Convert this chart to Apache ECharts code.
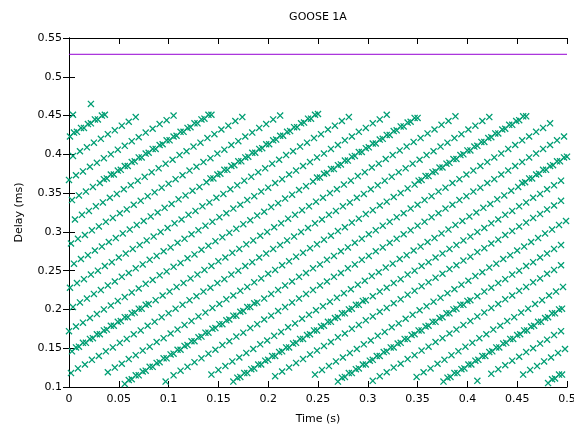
<!DOCTYPE html>
<html>
<head>
<meta charset="utf-8">
<title>GOOSE 1A</title>
<script src="https://cdn.jsdelivr.net/npm/echarts/dist/echarts.min.js"></script>
<style>
  html, body { margin: 0; padding: 0; background: #fff; }
  #chart { width: 574px; height: 427px; }
</style>
</head>
<body>
<div id="chart"></div>
<script>
// delay points, one array per diagonal stripe (time s, delay ms)
const st0 = [[0.001,0.423],[0.008,0.429],[0.015,0.434],[0.022,0.440],[0.029,0.445],[0.036,0.451]]
const st1 = [[0.004,0.398],[0.011,0.404],[0.018,0.409],[0.025,0.415],[0.032,0.420],[0.039,0.426],[0.046,0.431],[0.053,0.437],[0.060,0.442],[0.067,0.448]]
const st2 = [[0.000,0.367],[0.007,0.373],[0.014,0.378],[0.021,0.384],[0.028,0.389],[0.035,0.395],[0.042,0.400],[0.049,0.406],[0.056,0.411],[0.063,0.417],[0.070,0.422],[0.077,0.428],[0.084,0.433],[0.091,0.439],[0.098,0.444],[0.105,0.450]]
const st3 = [[0.003,0.341],[0.010,0.347],[0.017,0.352],[0.024,0.358],[0.031,0.363],[0.038,0.369],[0.045,0.374],[0.052,0.380],[0.059,0.385],[0.066,0.391],[0.073,0.396],[0.080,0.402],[0.087,0.407],[0.094,0.413],[0.101,0.418],[0.108,0.424],[0.115,0.429],[0.122,0.435],[0.129,0.440],[0.136,0.446],[0.143,0.451]]
const st4 = [[0.006,0.316],[0.013,0.322],[0.020,0.327],[0.027,0.333],[0.034,0.338],[0.041,0.344],[0.048,0.349],[0.055,0.355],[0.062,0.360],[0.069,0.366],[0.076,0.371],[0.083,0.377],[0.090,0.382],[0.097,0.388],[0.104,0.393],[0.111,0.399],[0.118,0.404],[0.125,0.410],[0.132,0.415],[0.139,0.421],[0.146,0.426],[0.153,0.432],[0.160,0.437],[0.167,0.443],[0.174,0.448]]
const st5 = [[0.002,0.285],[0.009,0.291],[0.016,0.296],[0.023,0.302],[0.030,0.307],[0.037,0.313],[0.044,0.318],[0.051,0.324],[0.058,0.329],[0.065,0.335],[0.072,0.340],[0.079,0.346],[0.086,0.351],[0.093,0.357],[0.100,0.362],[0.107,0.368],[0.114,0.373],[0.121,0.379],[0.128,0.384],[0.135,0.390],[0.142,0.395],[0.149,0.401],[0.156,0.406],[0.163,0.412],[0.170,0.417],[0.177,0.423],[0.184,0.428],[0.191,0.434],[0.198,0.439],[0.205,0.445],[0.212,0.450]]
const st6 = [[0.005,0.259],[0.012,0.265],[0.019,0.270],[0.026,0.276],[0.033,0.281],[0.040,0.287],[0.047,0.292],[0.054,0.298],[0.061,0.303],[0.068,0.309],[0.075,0.314],[0.082,0.320],[0.089,0.325],[0.096,0.331],[0.103,0.336],[0.110,0.342],[0.117,0.347],[0.124,0.353],[0.131,0.358],[0.138,0.364],[0.145,0.369],[0.152,0.375],[0.159,0.380],[0.166,0.386],[0.173,0.391],[0.180,0.397],[0.187,0.402],[0.194,0.408],[0.201,0.413],[0.208,0.419],[0.215,0.424],[0.222,0.430],[0.229,0.435],[0.236,0.441],[0.243,0.446],[0.250,0.452]]
const st7 = [[0.001,0.228],[0.008,0.234],[0.015,0.239],[0.022,0.245],[0.029,0.250],[0.036,0.256],[0.043,0.261],[0.050,0.267],[0.057,0.272],[0.064,0.278],[0.071,0.283],[0.078,0.289],[0.085,0.294],[0.092,0.300],[0.099,0.305],[0.106,0.311],[0.113,0.316],[0.120,0.322],[0.127,0.327],[0.134,0.333],[0.141,0.338],[0.148,0.344],[0.155,0.349],[0.162,0.355],[0.169,0.360],[0.176,0.366],[0.183,0.371],[0.190,0.377],[0.197,0.382],[0.204,0.388],[0.211,0.393],[0.218,0.399],[0.225,0.404],[0.232,0.410],[0.239,0.415],[0.246,0.421],[0.253,0.426],[0.260,0.432],[0.267,0.437],[0.274,0.443],[0.281,0.448]]
const st8 = [[0.004,0.203],[0.011,0.209],[0.018,0.214],[0.025,0.220],[0.032,0.225],[0.039,0.231],[0.046,0.236],[0.053,0.242],[0.060,0.247],[0.067,0.253],[0.074,0.258],[0.081,0.264],[0.088,0.269],[0.095,0.275],[0.102,0.280],[0.109,0.286],[0.116,0.291],[0.123,0.297],[0.130,0.302],[0.137,0.308],[0.144,0.313],[0.151,0.319],[0.158,0.324],[0.165,0.330],[0.172,0.335],[0.179,0.341],[0.186,0.346],[0.193,0.352],[0.200,0.357],[0.207,0.363],[0.214,0.368],[0.221,0.374],[0.228,0.379],[0.235,0.385],[0.242,0.390],[0.249,0.396],[0.256,0.401],[0.263,0.407],[0.270,0.412],[0.277,0.418],[0.284,0.423],[0.291,0.429],[0.298,0.434],[0.305,0.440],[0.312,0.445],[0.319,0.451]]
const st9 = [[0.000,0.172],[0.007,0.178],[0.014,0.183],[0.021,0.189],[0.028,0.194],[0.035,0.200],[0.042,0.205],[0.049,0.211],[0.056,0.216],[0.063,0.222],[0.070,0.227],[0.077,0.233],[0.084,0.238],[0.091,0.244],[0.098,0.249],[0.105,0.255],[0.112,0.260],[0.119,0.266],[0.126,0.271],[0.133,0.277],[0.140,0.282],[0.147,0.288],[0.154,0.293],[0.161,0.299],[0.168,0.304],[0.175,0.310],[0.182,0.315],[0.189,0.321],[0.196,0.326],[0.203,0.332],[0.210,0.337],[0.217,0.343],[0.224,0.348],[0.231,0.354],[0.238,0.359],[0.245,0.365],[0.252,0.370],[0.259,0.376],[0.266,0.381],[0.273,0.387],[0.280,0.392],[0.287,0.398],[0.294,0.403],[0.301,0.409],[0.308,0.414],[0.315,0.420],[0.322,0.425],[0.329,0.431],[0.336,0.436],[0.343,0.442],[0.350,0.447]]
const st10 = [[0.003,0.146],[0.010,0.152],[0.017,0.157],[0.024,0.163],[0.031,0.168],[0.038,0.174],[0.045,0.179],[0.052,0.185],[0.059,0.190],[0.066,0.196],[0.073,0.201],[0.080,0.207],[0.087,0.212],[0.094,0.218],[0.101,0.223],[0.108,0.229],[0.115,0.234],[0.122,0.240],[0.129,0.245],[0.136,0.251],[0.143,0.256],[0.150,0.262],[0.157,0.267],[0.164,0.273],[0.171,0.278],[0.178,0.284],[0.185,0.289],[0.192,0.295],[0.199,0.300],[0.206,0.306],[0.213,0.311],[0.220,0.317],[0.227,0.322],[0.234,0.328],[0.241,0.333],[0.248,0.339],[0.255,0.344],[0.262,0.350],[0.269,0.355],[0.276,0.361],[0.283,0.366],[0.290,0.372],[0.297,0.377],[0.304,0.383],[0.311,0.388],[0.318,0.394],[0.325,0.399],[0.332,0.405],[0.339,0.410],[0.346,0.416],[0.353,0.421],[0.360,0.427],[0.367,0.432],[0.374,0.438],[0.381,0.443],[0.388,0.449]]
const st11 = [[0.002,0.118],[0.009,0.124],[0.016,0.129],[0.023,0.135],[0.030,0.140],[0.037,0.146],[0.044,0.151],[0.051,0.157],[0.058,0.162],[0.065,0.168],[0.072,0.173],[0.079,0.179],[0.086,0.184],[0.093,0.190],[0.100,0.195],[0.107,0.201],[0.114,0.206],[0.121,0.212],[0.128,0.217],[0.135,0.223],[0.142,0.228],[0.149,0.234],[0.156,0.239],[0.163,0.245],[0.170,0.250],[0.177,0.256],[0.184,0.261],[0.191,0.267],[0.198,0.272],[0.205,0.278],[0.212,0.283],[0.219,0.289],[0.226,0.294],[0.233,0.300],[0.240,0.305],[0.247,0.311],[0.254,0.316],[0.261,0.322],[0.268,0.327],[0.275,0.333],[0.282,0.338],[0.289,0.344],[0.296,0.349],[0.303,0.355],[0.310,0.360],[0.317,0.366],[0.324,0.371],[0.331,0.377],[0.338,0.382],[0.345,0.388],[0.352,0.393],[0.359,0.399],[0.366,0.404],[0.373,0.410],[0.380,0.415],[0.387,0.421],[0.394,0.426],[0.401,0.432],[0.408,0.437],[0.415,0.443],[0.422,0.448]]
const st12 = [[0.039,0.119],[0.046,0.125],[0.053,0.130],[0.060,0.136],[0.067,0.141],[0.074,0.147],[0.081,0.152],[0.088,0.158],[0.095,0.163],[0.102,0.169],[0.109,0.174],[0.116,0.180],[0.123,0.185],[0.130,0.191],[0.137,0.196],[0.144,0.202],[0.151,0.207],[0.158,0.213],[0.165,0.218],[0.172,0.224],[0.179,0.229],[0.186,0.235],[0.193,0.240],[0.200,0.246],[0.207,0.251],[0.214,0.257],[0.221,0.262],[0.228,0.268],[0.235,0.273],[0.242,0.279],[0.249,0.284],[0.256,0.290],[0.263,0.295],[0.270,0.301],[0.277,0.306],[0.284,0.312],[0.291,0.317],[0.298,0.323],[0.305,0.328],[0.312,0.334],[0.319,0.339],[0.326,0.345],[0.333,0.350],[0.340,0.356],[0.347,0.361],[0.354,0.367],[0.361,0.372],[0.368,0.378],[0.375,0.383],[0.382,0.389],[0.389,0.394],[0.396,0.400],[0.403,0.405],[0.410,0.411],[0.417,0.416],[0.424,0.422],[0.431,0.427],[0.438,0.433],[0.445,0.438],[0.452,0.444],[0.459,0.449]]
const st13 = [[0.056,0.104],[0.063,0.110],[0.070,0.115],[0.077,0.121],[0.084,0.126],[0.091,0.132],[0.098,0.137],[0.105,0.143],[0.112,0.148],[0.119,0.154],[0.126,0.159],[0.133,0.165],[0.140,0.170],[0.147,0.176],[0.154,0.181],[0.161,0.187],[0.168,0.192],[0.175,0.198],[0.182,0.203],[0.189,0.209],[0.196,0.214],[0.203,0.220],[0.210,0.225],[0.217,0.231],[0.224,0.236],[0.231,0.242],[0.238,0.247],[0.245,0.253],[0.252,0.258],[0.259,0.264],[0.266,0.269],[0.273,0.275],[0.280,0.280],[0.287,0.286],[0.294,0.291],[0.301,0.297],[0.308,0.302],[0.315,0.308],[0.322,0.313],[0.329,0.319],[0.336,0.324],[0.343,0.330],[0.350,0.335],[0.357,0.341],[0.364,0.346],[0.371,0.352],[0.378,0.357],[0.385,0.363],[0.392,0.368],[0.399,0.374],[0.406,0.379],[0.413,0.385],[0.420,0.390],[0.427,0.396],[0.434,0.401],[0.441,0.407],[0.448,0.412],[0.455,0.418],[0.462,0.423],[0.469,0.429],[0.476,0.434],[0.483,0.440]]
const st14 = [[0.105,0.115],[0.112,0.121],[0.119,0.126],[0.126,0.132],[0.133,0.137],[0.140,0.143],[0.147,0.148],[0.154,0.154],[0.161,0.159],[0.168,0.165],[0.175,0.170],[0.182,0.176],[0.189,0.181],[0.196,0.187],[0.203,0.192],[0.210,0.198],[0.217,0.203],[0.224,0.209],[0.231,0.214],[0.238,0.220],[0.245,0.225],[0.252,0.231],[0.259,0.236],[0.266,0.242],[0.273,0.247],[0.280,0.253],[0.287,0.258],[0.294,0.264],[0.301,0.269],[0.308,0.275],[0.315,0.280],[0.322,0.286],[0.329,0.291],[0.336,0.297],[0.343,0.302],[0.350,0.308],[0.357,0.313],[0.364,0.319],[0.371,0.324],[0.378,0.330],[0.385,0.335],[0.392,0.341],[0.399,0.346],[0.406,0.352],[0.413,0.357],[0.420,0.363],[0.427,0.368],[0.434,0.374],[0.441,0.379],[0.448,0.385],[0.455,0.390],[0.462,0.396],[0.469,0.401],[0.476,0.407],[0.483,0.412],[0.490,0.418],[0.497,0.423]]
const st15 = [[0.143,0.116],[0.150,0.122],[0.157,0.127],[0.164,0.133],[0.171,0.138],[0.178,0.144],[0.185,0.149],[0.192,0.155],[0.199,0.160],[0.206,0.166],[0.213,0.171],[0.220,0.177],[0.227,0.182],[0.234,0.188],[0.241,0.193],[0.248,0.199],[0.255,0.204],[0.262,0.210],[0.269,0.215],[0.276,0.221],[0.283,0.226],[0.290,0.232],[0.297,0.237],[0.304,0.243],[0.311,0.248],[0.318,0.254],[0.325,0.259],[0.332,0.265],[0.339,0.270],[0.346,0.276],[0.353,0.281],[0.360,0.287],[0.367,0.292],[0.374,0.298],[0.381,0.303],[0.388,0.309],[0.395,0.314],[0.402,0.320],[0.409,0.325],[0.416,0.331],[0.423,0.336],[0.430,0.342],[0.437,0.347],[0.444,0.353],[0.451,0.358],[0.458,0.364],[0.465,0.369],[0.472,0.375],[0.479,0.380],[0.486,0.386],[0.493,0.391],[0.500,0.397]]
const st16 = [[0.165,0.107],[0.172,0.113],[0.179,0.118],[0.186,0.124],[0.193,0.129],[0.200,0.135],[0.207,0.140],[0.214,0.146],[0.221,0.151],[0.228,0.157],[0.235,0.162],[0.242,0.168],[0.249,0.173],[0.256,0.179],[0.263,0.184],[0.270,0.190],[0.277,0.195],[0.284,0.201],[0.291,0.206],[0.298,0.212],[0.305,0.217],[0.312,0.223],[0.319,0.228],[0.326,0.234],[0.333,0.239],[0.340,0.245],[0.347,0.250],[0.354,0.256],[0.361,0.261],[0.368,0.267],[0.375,0.272],[0.382,0.278],[0.389,0.283],[0.396,0.289],[0.403,0.294],[0.410,0.300],[0.417,0.305],[0.424,0.311],[0.431,0.316],[0.438,0.322],[0.445,0.327],[0.452,0.333],[0.459,0.338],[0.466,0.344],[0.473,0.349],[0.480,0.355],[0.487,0.360],[0.494,0.366]]
const st17 = [[0.207,0.114],[0.214,0.120],[0.221,0.125],[0.228,0.131],[0.235,0.136],[0.242,0.142],[0.249,0.147],[0.256,0.153],[0.263,0.158],[0.270,0.164],[0.277,0.169],[0.284,0.175],[0.291,0.180],[0.298,0.186],[0.305,0.191],[0.312,0.197],[0.319,0.202],[0.326,0.208],[0.333,0.213],[0.340,0.219],[0.347,0.224],[0.354,0.230],[0.361,0.235],[0.368,0.241],[0.375,0.246],[0.382,0.252],[0.389,0.257],[0.396,0.263],[0.403,0.268],[0.410,0.274],[0.417,0.279],[0.424,0.285],[0.431,0.290],[0.438,0.296],[0.445,0.301],[0.452,0.307],[0.459,0.312],[0.466,0.318],[0.473,0.323],[0.480,0.329],[0.487,0.334],[0.494,0.340]]
const st18 = [[0.247,0.116],[0.254,0.122],[0.261,0.127],[0.268,0.133],[0.275,0.138],[0.282,0.144],[0.289,0.149],[0.296,0.155],[0.303,0.160],[0.310,0.166],[0.317,0.171],[0.324,0.177],[0.331,0.182],[0.338,0.188],[0.345,0.193],[0.352,0.199],[0.359,0.204],[0.366,0.210],[0.373,0.215],[0.380,0.221],[0.387,0.226],[0.394,0.232],[0.401,0.237],[0.408,0.243],[0.415,0.248],[0.422,0.254],[0.429,0.259],[0.436,0.265],[0.443,0.270],[0.450,0.276],[0.457,0.281],[0.464,0.287],[0.471,0.292],[0.478,0.298],[0.485,0.303],[0.492,0.309],[0.499,0.314]]
const st19 = [[0.270,0.107],[0.277,0.113],[0.284,0.118],[0.291,0.124],[0.298,0.129],[0.305,0.135],[0.312,0.140],[0.319,0.146],[0.326,0.151],[0.333,0.157],[0.340,0.162],[0.347,0.168],[0.354,0.173],[0.361,0.179],[0.368,0.184],[0.375,0.190],[0.382,0.195],[0.389,0.201],[0.396,0.206],[0.403,0.212],[0.410,0.217],[0.417,0.223],[0.424,0.228],[0.431,0.234],[0.438,0.239],[0.445,0.245],[0.452,0.250],[0.459,0.256],[0.466,0.261],[0.473,0.267],[0.480,0.272],[0.487,0.278],[0.494,0.283]]
const st20 = [[0.305,0.108],[0.312,0.114],[0.319,0.119],[0.326,0.125],[0.333,0.130],[0.340,0.136],[0.347,0.141],[0.354,0.147],[0.361,0.152],[0.368,0.158],[0.375,0.163],[0.382,0.169],[0.389,0.174],[0.396,0.180],[0.403,0.185],[0.410,0.191],[0.417,0.196],[0.424,0.202],[0.431,0.207],[0.438,0.213],[0.445,0.218],[0.452,0.224],[0.459,0.229],[0.466,0.235],[0.473,0.240],[0.480,0.246],[0.487,0.251],[0.494,0.257]]
const st21 = [[0.349,0.113],[0.356,0.119],[0.363,0.124],[0.370,0.130],[0.377,0.135],[0.384,0.141],[0.391,0.146],[0.398,0.152],[0.405,0.157],[0.412,0.163],[0.419,0.168],[0.426,0.174],[0.433,0.179],[0.440,0.185],[0.447,0.190],[0.454,0.196],[0.461,0.201],[0.468,0.207],[0.475,0.212],[0.482,0.218],[0.489,0.223],[0.496,0.229]]
const st22 = [[0.376,0.107],[0.383,0.113],[0.390,0.118],[0.397,0.124],[0.404,0.129],[0.411,0.135],[0.418,0.140],[0.425,0.146],[0.432,0.151],[0.439,0.157],[0.446,0.162],[0.453,0.168],[0.460,0.173],[0.467,0.179],[0.474,0.184],[0.481,0.190],[0.488,0.195],[0.495,0.201]]
const st23 = [[0.424,0.117],[0.431,0.123],[0.438,0.128],[0.445,0.134],[0.452,0.139],[0.459,0.145],[0.466,0.150],[0.473,0.156],[0.480,0.161],[0.487,0.167],[0.494,0.172]]
const st24 = [[0.456,0.116],[0.463,0.122],[0.470,0.127],[0.477,0.133],[0.484,0.138],[0.491,0.144],[0.498,0.149]]
const st25 = [[0.481,0.105],[0.488,0.111],[0.495,0.116]]

// the extra in-between samples where a stripe looks doubled (thick)
const dn0 = [[0.005,0.428],[0.012,0.434],[0.019,0.439],[0.026,0.445],[0.033,0.450]]
const dn3 = [[0.035,0.368],[0.042,0.374],[0.049,0.379],[0.056,0.385],[0.063,0.390],[0.070,0.396],[0.077,0.401],[0.084,0.407],[0.091,0.412],[0.098,0.418],[0.105,0.423],[0.112,0.429],[0.119,0.434],[0.126,0.440],[0.133,0.445],[0.140,0.451]]
const dn6 = [[0.142,0.369],[0.149,0.374],[0.156,0.380],[0.163,0.385],[0.170,0.391],[0.177,0.396],[0.184,0.402],[0.191,0.407],[0.198,0.413],[0.205,0.418],[0.212,0.424],[0.219,0.429],[0.226,0.435],[0.233,0.440],[0.240,0.446],[0.247,0.451]]
const dn9 = [[0.249,0.370],[0.256,0.375],[0.263,0.381],[0.270,0.386],[0.277,0.392],[0.284,0.397],[0.291,0.403],[0.298,0.408],[0.305,0.414],[0.312,0.419],[0.319,0.425],[0.326,0.430],[0.333,0.436],[0.340,0.441],[0.347,0.447]]
const dn10 = [[0.007,0.151],[0.014,0.157],[0.021,0.162],[0.028,0.168],[0.035,0.173],[0.042,0.179],[0.049,0.184],[0.056,0.190],[0.063,0.195],[0.070,0.201],[0.077,0.206]]
const dn12 = [[0.351,0.366],[0.358,0.372],[0.365,0.377],[0.372,0.383],[0.379,0.388],[0.386,0.394],[0.393,0.399],[0.400,0.405],[0.407,0.410],[0.414,0.416],[0.421,0.421],[0.428,0.427],[0.435,0.432],[0.442,0.438],[0.449,0.443],[0.456,0.449]]
const dn13 = [[0.060,0.109],[0.067,0.115],[0.074,0.120],[0.081,0.126],[0.088,0.131],[0.095,0.137],[0.102,0.142],[0.109,0.148],[0.116,0.153],[0.123,0.159],[0.130,0.164],[0.137,0.170],[0.144,0.175],[0.151,0.181],[0.158,0.186],[0.165,0.192],[0.172,0.197],[0.179,0.203],[0.186,0.208]]
const dn15 = [[0.455,0.363],[0.462,0.369],[0.469,0.374],[0.476,0.380],[0.483,0.385],[0.490,0.391],[0.497,0.396]]
const dn16 = [[0.169,0.112],[0.176,0.118],[0.183,0.123],[0.190,0.129],[0.197,0.134],[0.204,0.140],[0.211,0.145],[0.218,0.151],[0.225,0.156],[0.232,0.162],[0.239,0.167],[0.246,0.173],[0.253,0.178],[0.260,0.184],[0.267,0.189],[0.274,0.195],[0.281,0.200],[0.288,0.206],[0.295,0.211]]
const dn19 = [[0.274,0.112],[0.281,0.118],[0.288,0.123],[0.295,0.129],[0.302,0.134],[0.309,0.140],[0.316,0.145],[0.323,0.151],[0.330,0.156],[0.337,0.162],[0.344,0.167],[0.351,0.173],[0.358,0.178],[0.365,0.184],[0.372,0.189],[0.379,0.195],[0.386,0.200],[0.393,0.206],[0.400,0.211]]
const dn22 = [[0.380,0.112],[0.387,0.118],[0.394,0.123],[0.401,0.129],[0.408,0.134],[0.415,0.140],[0.422,0.145],[0.429,0.151],[0.436,0.156],[0.443,0.162],[0.450,0.167],[0.457,0.173],[0.464,0.178],[0.471,0.184],[0.478,0.189],[0.485,0.195],[0.492,0.200]]
const dn25 = [[0.485,0.110],[0.492,0.116]]

// lone markers off the stripes
const strays = [[0.004,0.451],[0.022,0.465],[0.097,0.107],[0.410,0.108]]

// purple limit line
const limitDelay = 0.529
const timeRange = [0, 0.5]

const stripes = [st0, st1, st2, st3, st4, st5, st6, st7, st8, st9, st10, st11, st12,
    st13, st14, st15, st16, st17, st18, st19, st20, st21, st22, st23, st24, st25]
const doubled = [dn0, dn3, dn6, dn9, dn10, dn12, dn13, dn15, dn16, dn19, dn22, dn25]

// gnuplot style 'x' point
const crossPath = 'path://M0,1.3L1.3,0L10,8.7L8.7,10Z M8.7,0L10,1.3L1.3,10L0,8.7Z'

function getOption() {
    let points = []
    stripes.forEach(s => { points = points.concat(s) })
    doubled.forEach(s => { points = points.concat(s) })
    points = points.concat(strays)

    const txt = { fontFamily: 'DejaVu Sans', fontSize: 11, color: '#000' }
    const tick = { show: true, inside: true, length: 6, lineStyle: { color: '#000', width: 1 } }
    const line = { show: true, lineStyle: { color: '#000', width: 1 } }

    return {
        animation: false,
        backgroundColor: '#fff',
        title: {
            text: 'GOOSE 1A',
            left: 313,
            top: 7,
            textAlign: 'center',
            textStyle: { fontFamily: 'DejaVu Sans', fontSize: 11, fontWeight: 'normal', color: '#000' }
        },
        grid: { left: 69, right: 7, top: 38, bottom: 40, show: false, containLabel: false, outerBoundsMode: 'none' },
        xAxis: [
            {
                type: 'value', min: 0, max: 0.5, interval: 0.05, position: 'bottom',
                name: 'Time (s)', nameLocation: 'middle', nameGap: 27,
                nameTextStyle: txt,
                axisLine: line, axisTick: tick,
                axisLabel: Object.assign({ margin: 7 }, txt),
                splitLine: { show: false }
            },
            {
                type: 'value', min: 0, max: 0.5, interval: 0.05, position: 'top',
                axisLine: line, axisTick: tick,
                axisLabel: { show: false }, splitLine: { show: false }
            }
        ],
        yAxis: [
            {
                type: 'value', min: 0.1, max: 0.55, interval: 0.05, position: 'left',
                name: 'Delay (ms)', nameLocation: 'middle', nameGap: 44,
                nameTextStyle: txt,
                axisLine: line, axisTick: tick,
                axisLabel: Object.assign({ margin: 7 }, txt),
                splitLine: { show: false }
            },
            {
                type: 'value', min: 0.1, max: 0.55, interval: 0.05, position: 'right',
                axisLine: line, axisTick: tick,
                axisLabel: { show: false }, splitLine: { show: false }
            }
        ],
        series: [
            {
                name: 'limit',
                type: 'line',
                data: timeRange.map(t => [t, limitDelay]),
                showSymbol: false,
                symbol: 'none',
                lineStyle: { color: '#9400d3', width: 1 },
                silent: true
            },
            {
                name: 'delay',
                type: 'scatter',
                data: points,
                symbol: crossPath,
                symbolSize: 7,
                itemStyle: { color: '#009e73', opacity: 1 },
                silent: true
            }
        ]
    }
}

let chart = echarts.init(document.getElementById('chart'), null, { renderer: 'canvas' })
chart.setOption(getOption())
</script>
</body>
</html>
